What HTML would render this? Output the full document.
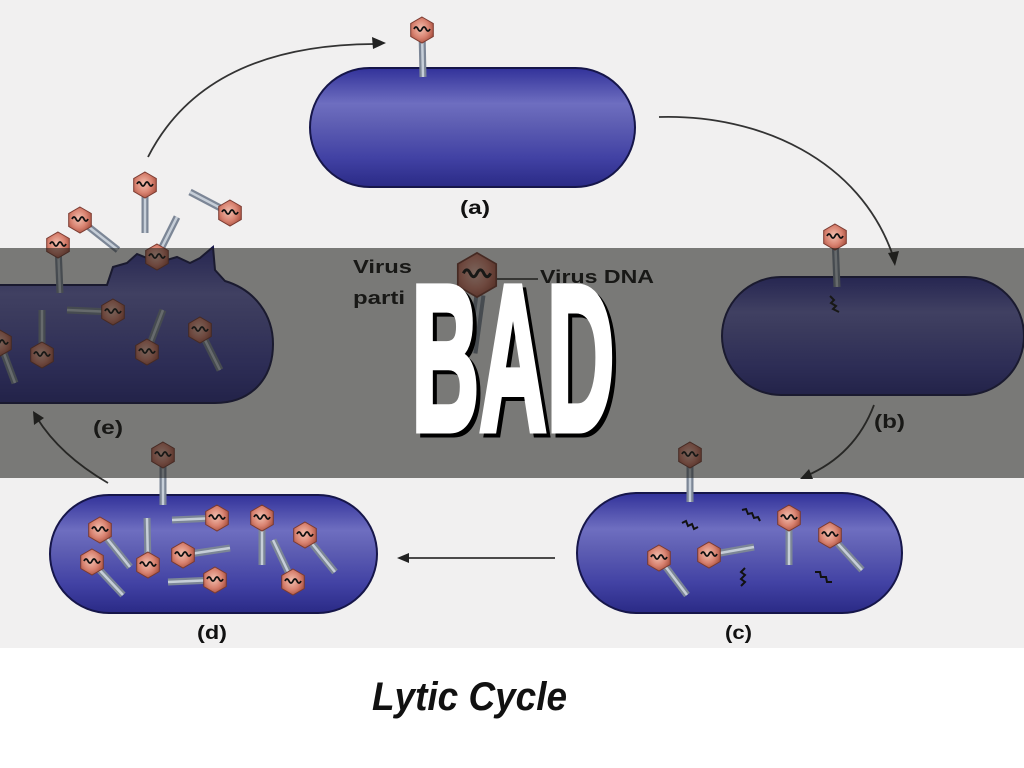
<!DOCTYPE html>
<html><head><meta charset="utf-8"><style>
html,body{margin:0;padding:0;background:#fff;}
svg{display:block;}
</style></head><body>
<svg width="1024" height="768" viewBox="0 0 1024 768" xmlns="http://www.w3.org/2000/svg">
<defs>
<linearGradient id="cg" x1="0" y1="0" x2="0" y2="1">
<stop offset="0" stop-color="#32329a"/>
<stop offset="0.3" stop-color="#6e6ec0"/>
<stop offset="0.45" stop-color="#6060b4"/>
<stop offset="0.75" stop-color="#4242a4"/>
<stop offset="1" stop-color="#2a2a86"/>
</linearGradient>
<radialGradient id="hg" cx="0.45" cy="0.45" r="0.6">
<stop offset="0" stop-color="#f2c0b0"/>
<stop offset="0.6" stop-color="#d88270"/>
<stop offset="1" stop-color="#a8503f"/>
</radialGradient>
<g id="h">
<polygon points="0,-13 11.3,-6.5 11.3,6.5 0,13 -11.3,6.5 -11.3,-6.5" fill="url(#hg)" stroke="#7a3a30" stroke-width="1"/>
<path d="M-8,-1 q2,-4 4,0 t4,0 t4,0 t4,0" fill="none" stroke="#111" stroke-width="1.8"/>
</g>
</defs>

<!-- background -->
<rect x="0" y="0" width="1024" height="648" fill="#f1f0f0"/>
<rect x="0" y="648" width="1024" height="120" fill="#ffffff"/>

<!-- cells -->
<g stroke="#16164a" stroke-width="2" fill="url(#cg)">
<rect x="310" y="68" width="325" height="119" rx="59.5"/>
<rect x="722" y="277" width="302" height="118" rx="59"/>
<rect x="577" y="493" width="325" height="120" rx="60"/>
<rect x="50" y="495" width="327" height="118" rx="59"/>
<path d="M-60,285 H107 L113,267 L127,263 L137,254 L147,258 L160,262 L177,257 L190,263 L200,258 L213,247 L215,270 L225,281 C255,290 273,315 273,344 C273,380 250,403 215,403 H-60 Z"/>
</g>

<!-- DNA squiggles -->
<g fill="none" stroke="#111" stroke-width="2">
<path d="M830,296 l4,4 l-3,3 l5,3 l-3,3 l6,3"/>
<path d="M682,523 l4,-2 l2,5 l4,-2 l2,5 l4,-2"/>
<path d="M742,510 l4,-1 l2,5 l4,-1 l2,5 l4,-1 l2,4"/>
<path d="M745,568 l-4,4 l4,3 l-4,4 l4,3 l-4,4"/>
<path d="M815,572 l5,0 l1,5 l5,0 l1,5 l5,0"/>
</g>

<!-- phage tails -->
<g stroke-linecap="butt">
<g stroke="#7c8696" stroke-width="7">
<line x1="422" y1="30" x2="423" y2="77"/>
<line x1="835" y1="237" x2="837" y2="287"/>
<line x1="690" y1="455" x2="690" y2="502"/>
<line x1="659" y1="558" x2="687" y2="595"/>
<line x1="709" y1="555" x2="754" y2="547"/>
<line x1="789" y1="518" x2="789" y2="565"/>
<line x1="830" y1="535" x2="862" y2="570"/>
<line x1="163" y1="455" x2="163" y2="505"/>
<line x1="100" y1="530" x2="130" y2="567"/>
<line x1="92" y1="562" x2="123" y2="595"/>
<line x1="148" y1="565" x2="147" y2="518"/>
<line x1="217" y1="518" x2="172" y2="520"/>
<line x1="183" y1="555" x2="230" y2="548"/>
<line x1="215" y1="580" x2="168" y2="582"/>
<line x1="262" y1="518" x2="262" y2="565"/>
<line x1="293" y1="582" x2="273" y2="540"/>
<line x1="305" y1="535" x2="335" y2="572"/>
<line x1="145" y1="185" x2="145" y2="233"/>
<line x1="80" y1="220" x2="118" y2="250"/>
<line x1="230" y1="213" x2="190" y2="192"/>
<line x1="58" y1="245" x2="60" y2="293"/>
<line x1="157" y1="257" x2="177" y2="217"/>
<line x1="113" y1="312" x2="67" y2="310"/>
<line x1="42" y1="355" x2="42" y2="310"/>
<line x1="147" y1="352" x2="163" y2="310"/>
<line x1="200" y1="330" x2="220" y2="370"/>
<line x1="0" y1="343" x2="15" y2="383"/>
</g>
<g stroke="#c6ced8" stroke-width="2.5">
<line x1="422" y1="30" x2="423" y2="77"/>
<line x1="835" y1="237" x2="837" y2="287"/>
<line x1="690" y1="455" x2="690" y2="502"/>
<line x1="659" y1="558" x2="687" y2="595"/>
<line x1="709" y1="555" x2="754" y2="547"/>
<line x1="789" y1="518" x2="789" y2="565"/>
<line x1="830" y1="535" x2="862" y2="570"/>
<line x1="163" y1="455" x2="163" y2="505"/>
<line x1="100" y1="530" x2="130" y2="567"/>
<line x1="92" y1="562" x2="123" y2="595"/>
<line x1="148" y1="565" x2="147" y2="518"/>
<line x1="217" y1="518" x2="172" y2="520"/>
<line x1="183" y1="555" x2="230" y2="548"/>
<line x1="215" y1="580" x2="168" y2="582"/>
<line x1="262" y1="518" x2="262" y2="565"/>
<line x1="293" y1="582" x2="273" y2="540"/>
<line x1="305" y1="535" x2="335" y2="572"/>
<line x1="145" y1="185" x2="145" y2="233"/>
<line x1="80" y1="220" x2="118" y2="250"/>
<line x1="230" y1="213" x2="190" y2="192"/>
<line x1="58" y1="245" x2="60" y2="293"/>
<line x1="157" y1="257" x2="177" y2="217"/>
<line x1="113" y1="312" x2="67" y2="310"/>
<line x1="42" y1="355" x2="42" y2="310"/>
<line x1="147" y1="352" x2="163" y2="310"/>
<line x1="200" y1="330" x2="220" y2="370"/>
<line x1="0" y1="343" x2="15" y2="383"/>
</g>
<line x1="480" y1="295" x2="472" y2="353" stroke="#7c8696" stroke-width="11"/>
<line x1="480" y1="295" x2="472" y2="353" stroke="#c6ced8" stroke-width="3"/>
</g>

<!-- phage heads -->
<use href="#h" x="422" y="30"/>
<use href="#h" x="835" y="237"/>
<use href="#h" x="690" y="455"/>
<use href="#h" x="659" y="558"/>
<use href="#h" x="709" y="555"/>
<use href="#h" x="789" y="518"/>
<use href="#h" x="830" y="535"/>
<use href="#h" x="163" y="455"/>
<use href="#h" x="100" y="530"/>
<use href="#h" x="92" y="562"/>
<use href="#h" x="148" y="565"/>
<use href="#h" x="217" y="518"/>
<use href="#h" x="183" y="555"/>
<use href="#h" x="215" y="580"/>
<use href="#h" x="262" y="518"/>
<use href="#h" x="293" y="582"/>
<use href="#h" x="305" y="535"/>
<use href="#h" x="145" y="185"/>
<use href="#h" x="80" y="220"/>
<use href="#h" x="230" y="213"/>
<use href="#h" x="58" y="245"/>
<use href="#h" x="157" y="257"/>
<use href="#h" x="113" y="312"/>
<use href="#h" x="42" y="355"/>
<use href="#h" x="147" y="352"/>
<use href="#h" x="200" y="330"/>
<use href="#h" x="0" y="343"/>
<g transform="translate(477,275) scale(1.7)"><use href="#h"/></g>

<!-- arrows -->
<g fill="none" stroke="#333" stroke-width="1.8">
<path d="M148,157 Q205,45 374,44"/>
<path d="M659,117 C760,114 860,160 893,256"/>
<path d="M874,405 Q855,455 806,476"/>
<path d="M555,558 H404"/>
<path d="M108,483 Q60,455 37,418"/>
<line x1="497" y1="279" x2="538" y2="279" stroke="#222" stroke-width="1.5"/>
</g>
<g fill="#222">
<polygon points="386,43 372,37 373,49"/>
<polygon points="895,266 888,253 899,251"/>
<polygon points="800,479 809,469 813,479"/>
<polygon points="397,558 409,553 409,563"/>
<polygon points="33,411 34,425 44,418"/>
</g>

<!-- labels -->
<g font-family="Liberation Sans, sans-serif" font-weight="bold" fill="#111" font-size="19">
<text x="460" y="214" textLength="30" lengthAdjust="spacingAndGlyphs">(a)</text>
<text x="874" y="428" textLength="31" lengthAdjust="spacingAndGlyphs">(b)</text>
<text x="725" y="639" textLength="27" lengthAdjust="spacingAndGlyphs">(c)</text>
<text x="197" y="639" textLength="30" lengthAdjust="spacingAndGlyphs">(d)</text>
<text x="93" y="434" textLength="30" lengthAdjust="spacingAndGlyphs">(e)</text>
<text x="353" y="273" font-size="18" textLength="59" lengthAdjust="spacingAndGlyphs">Virus</text>
<text x="353" y="304" font-size="18" textLength="52" lengthAdjust="spacingAndGlyphs">parti</text>
<text x="540" y="283" font-size="18" textLength="114" lengthAdjust="spacingAndGlyphs">Virus DNA</text>
</g>

<text x="372" y="710" font-family="Liberation Sans, sans-serif" font-weight="bold" font-style="italic" font-size="40" fill="#111" textLength="195" lengthAdjust="spacingAndGlyphs">Lytic Cycle</text>

<!-- overlay band -->
<rect x="0" y="248" width="1024" height="230" fill="#1e1e1a" fill-opacity="0.57"/>

<!-- BAD -->
<g font-family="Liberation Sans, sans-serif" font-weight="bold" font-size="208" stroke-width="7" stroke-linejoin="miter">
<text x="415.5" y="434" textLength="203" lengthAdjust="spacingAndGlyphs" fill="#000" stroke="#000">BAD</text>
<text x="411.5" y="430" textLength="203" lengthAdjust="spacingAndGlyphs" fill="#fff" stroke="#fff">BAD</text>
</g>
</svg>
</body></html>
